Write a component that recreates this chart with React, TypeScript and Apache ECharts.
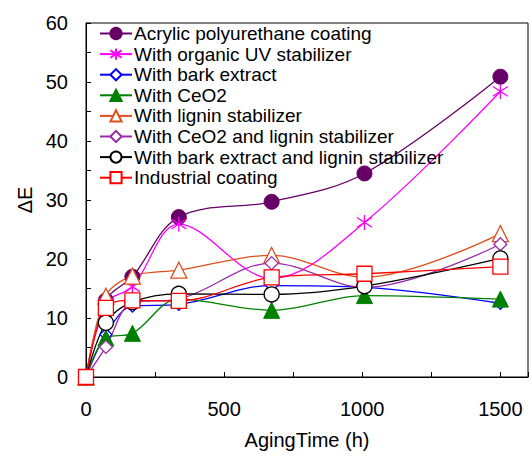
import React, { useEffect, useRef } from "react";
import * as echarts from "echarts";

const agingTime = [0, 72, 168, 336, 672, 1008, 1500];
const seriesNames = [
  "Acrylic polyurethane coating",
  "With organic UV stabilizer",
  "With bark extract",
  "With CeO2",
  "With lignin stabilizer",
  "With CeO2 and lignin stabilizer",
  "With bark extract and lignin stabilizer",
  "Industrial coating",
];
const acrylic = [0, 13.0, 17.0, 27.1, 29.7, 34.5, 50.9];
const organicUV = [0, 12.5, 15.3, 25.9, 16.7, 26.2, 48.4];
const barkExtract = [0, 7.2, 12.0, 12.3, 15.5, 15.2, 12.5];
const ceo2 = [0, 6.6, 7.4, 13.2, 11.3, 13.8, 13.2];
const lignin = [0, 13.7, 17.1, 18.1, 20.6, 16.9, 24.3];
const ceo2Lignin = [0, 5.1, 12.6, 13.2, 19.3, 15.2, 22.5];
const barkLignin = [0, 9.2, 12.7, 14.1, 14.0, 15.4, 20.1];
const industrial = [0, 11.7, 13.0, 12.9, 16.9, 17.5, 18.7];

const FONT = "Liberation Sans, Arial, sans-serif";
const STAR = "path://M10 0 L10 20 M1.5 3.5 L18.5 16.5 M1.5 16.5 L18.5 3.5";

export default function App() {
  const ref = useRef<HTMLDivElement>(null);
  useEffect(() => {
    document.body.style.margin = "0";
    const chart = echarts.init(ref.current!, null, { renderer: "svg" });
    const pair = (vals: number[]) => agingTime.map((t, i) => [t, vals[i]]);
    const mk = (
      name: string,
      vals: number[],
      color: string,
      symbol: string,
      size: number,
      filled: boolean
    ) => ({
      name,
      type: "line",
      data: pair(vals),
      smooth: 0.35,
      symbol,
      symbolSize: size,
      showAllSymbol: true,
      lineStyle: { color, width: 1.3 },
      itemStyle: filled
        ? { color, borderColor: color, borderWidth: 1 }
        : { color: symbol === STAR ? "rgba(0,0,0,0)" : "#ffffff", borderColor: color, borderWidth: 1.3 },
      emphasis: { disabled: true },
    });
    chart.setOption({
      animation: false,
      textStyle: { fontFamily: FONT },
      grid: {
        left: 86,
        right: 3,
        top: 23,
        bottom: 79,
        show: true,
        borderColor: "#000",
        borderWidth: 1,
        backgroundColor: "transparent",
      },
      legend: {
        orient: "vertical",
        left: 99,
        top: 24,
        padding: 0,
        itemWidth: 32,
        itemHeight: 14,
        itemGap: 1.6,
        data: seriesNames,
        textStyle: { fontSize: 19, color: "#000", fontFamily: FONT, padding: [0, 0, 0, -3] },
      },
      xAxis: {
        type: "value",
        min: 0,
        max: 1600,
        interval: 250,
        name: "AgingTime (h)",
        nameLocation: "middle",
        nameGap: 53,
        nameTextStyle: { fontSize: 20, color: "#000", fontFamily: FONT },
        axisLine: { lineStyle: { color: "#000", width: 1 } },
        axisTick: { inside: true, length: 5, lineStyle: { color: "#000" } },
        axisLabel: {
          fontSize: 20,
          color: "#000",
          margin: 22,
          fontFamily: FONT,
          formatter: (v: number) => (v % 500 === 0 ? String(v) : ""),
        },
        splitLine: { show: false },
      },
      yAxis: {
        type: "value",
        min: 0,
        max: 60,
        interval: 5,
        name: "ΔE",
        nameLocation: "middle",
        nameGap: 45,
        nameRotate: 90,
        nameTextStyle: { fontSize: 20, color: "#000", fontFamily: FONT },
        axisLine: { show: true, lineStyle: { color: "#000", width: 1 } },
        axisTick: { show: true, inside: true, length: 5, lineStyle: { color: "#000" } },
        axisLabel: {
          fontSize: 20,
          color: "#000",
          margin: 18,
          fontFamily: FONT,
          formatter: (v: number) => (v % 10 === 0 ? String(v) : ""),
        },
        splitLine: { show: false },
      },
      series: [
        mk(seriesNames[0], acrylic, "#660066", "circle", 15, true),
        mk(seriesNames[1], organicUV, "#FF00FF", STAR, 15, false),
        mk(seriesNames[2], barkExtract, "#0000FF", "diamond", 12, false),
        mk(seriesNames[3], ceo2, "#008000", "triangle", 16, true),
        mk(seriesNames[4], lignin, "#E0501E", "triangle", 16, false),
        mk(seriesNames[5], ceo2Lignin, "#9A2AAA", "diamond", 13, false),
        mk(seriesNames[6], barkLignin, "#000000", "circle", 15, false),
        mk(seriesNames[7], industrial, "#FF0000", "rect", 15, false),
      ],
    });
    return () => chart.dispose();
  }, []);
  return <div ref={ref} style={{ width: 531, height: 456 }} />;
}
